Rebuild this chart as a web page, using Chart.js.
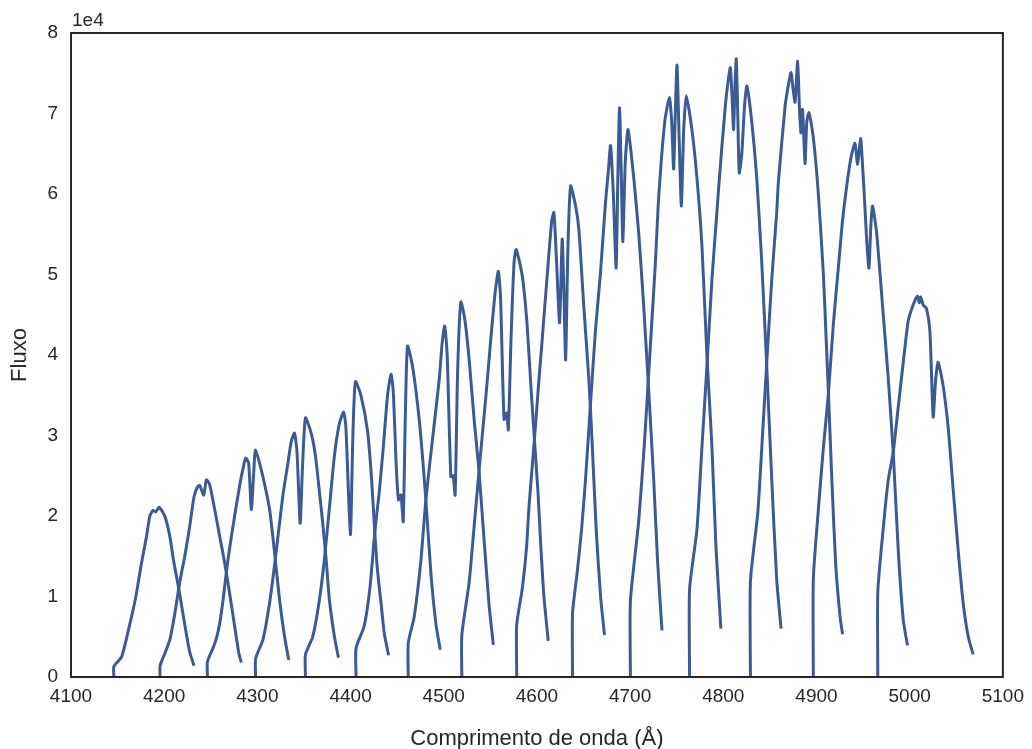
<!DOCTYPE html>
<html lang="pt">
<head>
    <meta charset="UTF-8">
    <title>Fluxo por ordem</title>
    <script src="https://cdn.jsdelivr.net/npm/chart.js@4.4.0/dist/chart.umd.min.js"></script>
    <style>
        body { margin: 0; background: #fff; }
        canvas { display: block; }
    </style>
</head>
<body>
    <canvas id="myChart" width="1032" height="749"></canvas>
    <script>
        // each echelle order: [wavelength (Å), flux / 1e4]
        const order1 = [[4146.0,0],[4146.0,0.13],[4154.3,0.25],[4162.0,0.60],[4169.6,1.00],[4175.7,1.42],[4181.1,1.75],[4184.6,2.00],[4188.1,2.07],[4191.0,2.05],[4194.5,2.11],[4200.6,2.00],[4206.0,1.75],[4210.0,1.45],[4215.6,1.10],[4222.1,0.65],[4227.4,0.31],[4232.0,0.14]];
        const order2 = [[4195.6,0],[4195.6,0.14],[4200.6,0.29],[4206.0,0.46],[4211.3,0.78],[4215.6,1.10],[4218.5,1.29],[4222.1,1.50],[4227.4,1.87],[4232.0,2.24],[4235.7,2.36],[4238.1,2.38],[4242.4,2.26],[4245.3,2.45],[4248.8,2.39],[4254.2,2.08],[4259.5,1.75],[4264.9,1.42],[4270.2,1.04],[4275.6,0.63],[4280.2,0.29],[4282.8,0.18]];
        const order3 = [[4246.4,0],[4246.4,0.19],[4252.4,0.36],[4256.0,0.48],[4259.5,0.66],[4263.1,0.95],[4266.7,1.30],[4270.2,1.60],[4275.6,2.00],[4281.0,2.38],[4285.2,2.62],[4287.4,2.72],[4290.6,2.66],[4293.5,2.08],[4295.9,2.50],[4298.1,2.82],[4305.9,2.49],[4313.1,2.08],[4318.4,1.55],[4323.8,0.96],[4329.2,0.50],[4333.7,0.21]];
        const order4 = [[4298.1,0],[4298.1,0.23],[4305.9,0.46],[4313.1,0.92],[4319.2,1.46],[4327.3,2.25],[4332.7,2.65],[4336.3,2.92],[4339.8,3.03],[4342.5,2.80],[4345.9,1.91],[4348.4,2.60],[4351.6,3.22],[4357.7,3.03],[4362.3,2.75],[4366.6,2.30],[4369.8,1.95],[4373.8,1.46],[4377.3,0.96],[4382.7,0.50],[4387.0,0.24]];
        const order5 = [[4351.6,0],[4351.6,0.28],[4359.4,0.50],[4366.6,0.96],[4371.9,1.46],[4377.3,2.10],[4382.7,2.75],[4388.0,3.15],[4392.6,3.29],[4395.0,3.10],[4399.8,1.77],[4402.5,3.00],[4405.2,3.67],[4411.3,3.49],[4418.3,3.05],[4422.3,2.50],[4426.0,1.80],[4428.7,1.35],[4432.7,0.92],[4436.2,0.54],[4440.8,0.27]];
        const order6 = [[4405.9,0],[4405.9,0.36],[4414.6,0.63],[4420.9,1.12],[4426.0,1.80],[4430.8,2.30],[4435.1,2.85],[4439.7,3.50],[4443.4,3.76],[4445.8,3.55],[4449.1,2.60],[4451.5,2.20],[4454.1,2.26],[4456.5,1.93],[4458.7,3.20],[4461.1,4.11],[4466.5,3.86],[4474.0,3.16],[4480.8,2.20],[4486.2,1.29],[4491.6,0.66],[4496.2,0.34]];
        const order7 = [[4461.9,0],[4461.9,0.42],[4468.3,0.75],[4475.5,1.45],[4480.8,2.20],[4487.9,2.95],[4495.1,3.69],[4498.3,4.15],[4501.0,4.36],[4503.7,4.00],[4507.6,2.49],[4510.1,2.50],[4512.2,2.26],[4514.9,3.80],[4518.3,4.66],[4522.5,4.45],[4527.2,3.95],[4532.6,3.20],[4537.9,2.55],[4543.3,1.70],[4548.6,0.90],[4553.2,0.40]];
        const order8 = [[4519.4,0],[4519.4,0.52],[4527.2,1.17],[4532.6,1.87],[4537.9,2.57],[4545.1,3.47],[4550.5,4.20],[4555.1,4.77],[4558.6,5.04],[4561.0,4.70],[4564.7,3.20],[4567.6,3.28],[4569.3,3.07],[4572.2,4.20],[4575.4,5.14],[4577.8,5.31],[4584.3,4.98],[4589.3,4.40],[4593.6,3.60],[4597.3,2.95],[4601.1,2.30],[4604.3,1.60],[4607.5,1.00],[4612.1,0.45]];
        const order9 = [[4578.3,0],[4578.3,0.65],[4584.3,1.10],[4588.8,1.60],[4591.4,2.10],[4597.3,2.95],[4602.2,3.70],[4605.7,4.20],[4611.1,5.00],[4615.8,5.66],[4618.2,5.77],[4620.9,5.20],[4624.3,4.40],[4627.1,5.44],[4628.9,4.80],[4630.8,3.94],[4633.2,5.30],[4636.1,6.10],[4641.5,5.85],[4645.0,5.56],[4650.3,4.60],[4655.7,3.70],[4659.3,2.90],[4663.6,1.83],[4668.3,1.00],[4672.5,0.52]];
        const order10 = [[4638.2,0],[4638.2,0.79],[4643.1,1.29],[4647.9,1.83],[4652.1,2.45],[4657.5,3.40],[4662.9,4.32],[4668.2,5.02],[4673.6,5.90],[4676.4,6.25],[4679.0,6.60],[4682.0,6.00],[4685.0,5.08],[4686.8,6.20],[4688.6,7.07],[4690.4,6.30],[4692.2,5.41],[4694.8,6.40],[4697.8,6.80],[4703.9,6.20],[4709.3,5.50],[4714.6,4.60],[4720.0,3.55],[4725.3,2.45],[4729.6,1.41],[4734.2,0.58]];
        const order11 = [[4700.3,0],[4700.3,0.94],[4709.3,1.95],[4715.6,2.95],[4721.7,4.11],[4727.1,5.14],[4730.6,5.95],[4737.1,6.89],[4742.1,7.20],[4744.6,6.90],[4746.7,6.31],[4748.5,7.00],[4750.3,7.60],[4752.6,6.70],[4755.0,5.85],[4757.5,6.80],[4760.3,7.22],[4766.3,6.80],[4771.7,6.20],[4777.1,5.35],[4782.4,4.00],[4787.8,2.86],[4792.1,1.62],[4797.4,0.60]];
        const order12 = [[4763.8,0],[4763.8,1.09],[4771.7,1.83],[4777.1,2.86],[4782.4,3.86],[4787.8,4.94],[4793.1,5.77],[4794.9,6.06],[4802.1,7.09],[4807.4,7.57],[4809.4,7.20],[4811.0,6.80],[4812.4,7.30],[4813.9,7.68],[4815.5,7.00],[4817.1,6.26],[4819.9,6.51],[4822.8,7.10],[4825.3,7.34],[4830.6,6.89],[4836.0,6.18],[4841.3,5.14],[4846.6,3.86],[4852.0,2.45],[4857.3,1.21],[4862.0,0.60]];
        const order13 = [[4829.1,0],[4829.1,1.19],[4837.0,2.04],[4842.0,2.99],[4846.6,3.90],[4852.0,4.94],[4857.3,5.77],[4859.1,6.15],[4866.3,7.09],[4869.8,7.35],[4872.7,7.51],[4874.9,7.30],[4877.0,7.14],[4879.8,7.65],[4881.6,7.10],[4883.2,6.76],[4885.0,7.05],[4887.7,6.38],[4889.6,6.90],[4892.0,7.01],[4896.6,6.70],[4902.0,6.00],[4907.4,5.00],[4910.0,4.30],[4912.7,3.56],[4916.3,2.50],[4920.6,1.40],[4925.3,0.75],[4928.0,0.53]];
        const order14 = [[4896.6,0],[4896.6,1.22],[4902.0,2.08],[4907.4,2.85],[4912.7,3.51],[4918.0,4.37],[4923.4,5.08],[4927.7,5.64],[4932.3,6.09],[4937.0,6.45],[4941.3,6.63],[4944.1,6.37],[4947.3,6.69],[4949.2,6.40],[4951.3,5.98],[4954.0,5.40],[4956.3,5.08],[4958.3,5.60],[4960.2,5.85],[4964.5,5.52],[4969.8,4.77],[4977.0,3.71],[4982.4,2.78],[4987.7,1.58],[4993.1,0.71],[4997.7,0.39]];
        const order15 = [[4965.8,0],[4965.8,1.06],[4971.5,1.83],[4976.9,2.44],[4982.4,2.80],[4987.7,3.35],[4993.1,3.91],[4998.4,4.42],[5003.7,4.62],[5008.3,4.73],[5010.2,4.65],[5011.8,4.72],[5014.5,4.62],[5018.0,4.58],[5021.7,4.30],[5025.2,3.23],[5027.9,3.70],[5030.6,3.91],[5036.0,3.61],[5041.3,3.10],[5046.6,2.34],[5052.0,1.58],[5057.4,0.92],[5062.7,0.51],[5068.1,0.28]];

        const orders = [order1, order2, order3, order4, order5, order6, order7, order8,
                        order9, order10, order11, order12, order13, order14, order15];

        const xTicks = [4100, 4200, 4300, 4400, 4500, 4600, 4700, 4800, 4900, 5000, 5100];
        const yTicks = [0, 1, 2, 3, 4, 5, 6, 7, 8];

        const ink = '#262626';
        const lineColor = '#3b5b97';
        const tickFont = { family: "'Liberation Sans', Arial, sans-serif", size: 19 };
        const titleFont = { family: "'Liberation Sans', Arial, sans-serif", size: 22 };

        // box around the plot plus the matplotlib-style offset text
        const frame = {
            id: 'frame',
            afterDraw(chart) {
                const { ctx, chartArea: a } = chart;
                ctx.save();
                ctx.strokeStyle = ink;
                ctx.lineWidth = 2;
                ctx.strokeRect(a.left, a.top, a.right - a.left, a.bottom - a.top);
                ctx.fillStyle = ink;
                ctx.font = tickFont.size + 'px ' + tickFont.family;
                ctx.textAlign = 'left';
                ctx.textBaseline = 'alphabetic';
                ctx.fillText('1e4', a.left + 1, a.top - 7);
                ctx.restore();
            }
        };

        const ctx = document.getElementById('myChart').getContext('2d');
        new Chart(ctx, {
            type: 'line',
            data: {
                datasets: orders.map((o, i) => ({
                    label: 'ordem ' + (i + 1),
                    data: o.map(([x, y]) => ({ x, y })),
                    borderColor: lineColor,
                    borderWidth: 3,
                    pointRadius: 0,
                    tension: 0.2,
                    fill: false
                }))
            },
            options: {
                responsive: false,
                animation: false,
                events: [],
                layout: { padding: { top: 33, right: 27, left: 0, bottom: 0 } },
                plugins: { legend: { display: false }, tooltip: { enabled: false } },
                scales: {
                    x: {
                        type: 'linear',
                        min: 4100, max: 5100,
                        afterBuildTicks: s => { s.ticks = xTicks.map(v => ({ value: v })); },
                        afterFit: s => { s.height = 72; },
                        grid: { display: false, drawTicks: false },
                        border: { display: false },
                        ticks: { color: ink, font: tickFont, padding: 8, maxRotation: 0, callback: v => String(v) },
                        title: { display: true, text: 'Comprimento de onda (Å)', color: ink, font: titleFont, padding: { top: 0, bottom: -3 } }
                    },
                    y: {
                        type: 'linear',
                        min: 0, max: 8,
                        afterBuildTicks: s => { s.ticks = yTicks.map(v => ({ value: v })); },
                        afterFit: s => { s.width = 71; },
                        grid: { display: false, drawTicks: false },
                        border: { display: false },
                        ticks: { color: ink, font: tickFont, padding: 13, callback: v => String(v) },
                        title: { display: true, text: 'Fluxo', color: ink, font: titleFont, padding: { top: 7, bottom: 0 } }
                    }
                }
            },
            plugins: [frame]
        });
    </script>
</body>
</html>
